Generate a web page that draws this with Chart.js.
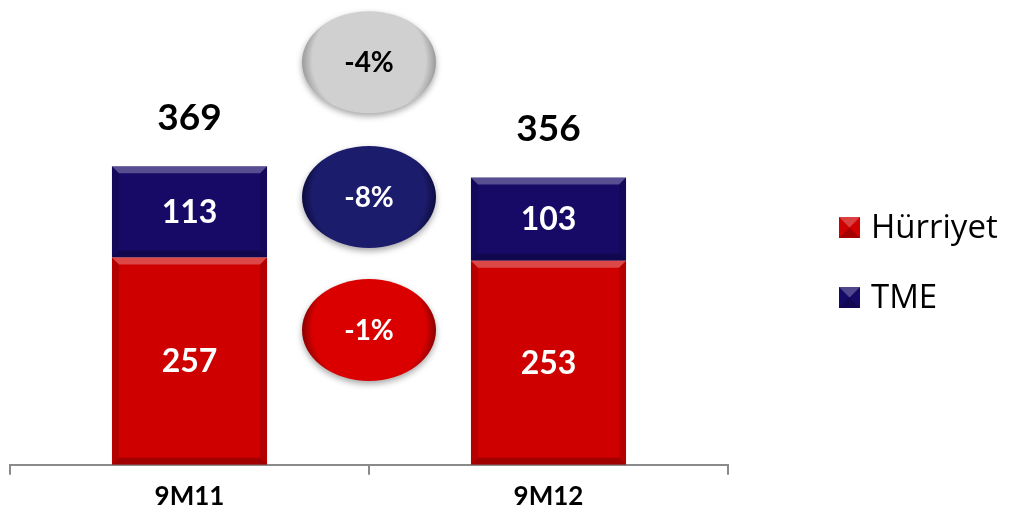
<!DOCTYPE html>
<html><head><meta charset="utf-8">
<script src="https://cdn.jsdelivr.net/npm/chart.js@4.4.1/dist/chart.umd.min.js"></script>
<style>html,body{margin:0;padding:0;background:#fff}#wrap{width:1010px;height:518px}</style>
</head><body><div id="wrap"><canvas id="c" width="1010" height="518"></canvas></div>
<script>
const categories = ["9M11", "9M12"];
const hurriyet = [257, 253];
const tme = [113, 103];
const totals = [369, 356];
const seriesNames = ["Hürriyet", "TME"];
const changeLabels = ["-4%", "-8%", "-1%"];
const changeValues = [499, 332, 167]; // vertical placement on value scale
const FONT = 'Lato, "Open Sans", sans-serif';

const RED = '#CF0000', NAVY = '#160A66';

const overlay = {
  id: 'overlay',
  afterDatasetsDraw(chart) {
    const ctx = chart.ctx;
    const xs = chart.scales.x, ys = chart.scales.y;
    chart.data.datasets.forEach((ds, di) => {
      const meta = chart.getDatasetMeta(di);
      meta.data.forEach((bar, i) => {
        const w = bar.width, l = bar.x - w / 2, r = bar.x + w / 2;
        const t = Math.min(bar.y, bar.base), b = Math.max(bar.y, bar.base);
        const e = 7;
        ctx.save();
        ctx.fillStyle = 'rgba(255,255,255,0.28)';
        ctx.beginPath(); ctx.moveTo(l, t); ctx.lineTo(r, t); ctx.lineTo(r - e, t + e); ctx.lineTo(l + e, t + e); ctx.closePath(); ctx.fill();
        ctx.fillStyle = 'rgba(0,0,0,0.22)';
        ctx.beginPath(); ctx.moveTo(l, b); ctx.lineTo(r, b); ctx.lineTo(r - e, b - e); ctx.lineTo(l + e, b - e); ctx.closePath(); ctx.fill();
        ctx.fillStyle = 'rgba(0,0,0,0.12)';
        ctx.beginPath(); ctx.moveTo(l, t); ctx.lineTo(l + e, t + e); ctx.lineTo(l + e, b - e); ctx.lineTo(l, b); ctx.closePath(); ctx.fill();
        ctx.beginPath(); ctx.moveTo(r, t); ctx.lineTo(r - e, t + e); ctx.lineTo(r - e, b - e); ctx.lineTo(r, b); ctx.closePath(); ctx.fill();
        ctx.fillStyle = '#fff';
        ctx.font = 'bold 32px ' + FONT;
        ctx.textAlign = 'center'; ctx.textBaseline = 'middle';
        ctx.fillText(String(ds.data[i]), bar.x, (t + b) / 2 + 1);
        ctx.restore();
      });
    });
    const topMeta = chart.getDatasetMeta(1);
    topMeta.data.forEach((bar, i) => {
      ctx.save();
      ctx.fillStyle = '#000';
      ctx.font = 'bold 37px ' + FONT;
      ctx.textAlign = 'center'; ctx.textBaseline = 'middle';
      ctx.fillText(String(totals[i]), bar.x, bar.y - 48);
      ctx.restore();
    });
    const cx = (xs.getPixelForValue(0) + xs.getPixelForValue(1)) / 2;
    const fills = [['#F2F2F2', '#D0D0D0', '#9a9a9a'], ['#3A3A8C', '#1C1C6C', '#0c0c40'], ['#FF3030', '#DA0000', '#8a0000']];
    const txt = ['#000', '#fff', '#fff'];
    changeLabels.forEach((lab, k) => {
      const cy = ys.getPixelForValue(changeValues[k]);
      const rx = 67, ry = 51;
      ctx.save();
      ctx.shadowColor = 'rgba(0,0,0,0.35)'; ctx.shadowBlur = 6; ctx.shadowOffsetY = 3;
      const g = ctx.createRadialGradient(cx, cy - 10, 10, cx, cy, rx);
      g.addColorStop(0, fills[k][1]); g.addColorStop(0.82, fills[k][1]); g.addColorStop(1, fills[k][2]);
      ctx.fillStyle = g;
      ctx.beginPath(); ctx.ellipse(cx, cy, rx, ry, 0, 0, Math.PI * 2); ctx.fill();
      ctx.restore();
      ctx.save();
      ctx.fillStyle = txt[k];
      ctx.font = 'bold 28px ' + FONT;
      ctx.textAlign = 'center'; ctx.textBaseline = 'middle';
      ctx.fillText(lab, cx, cy + 1);
      ctx.restore();
    });
    const legBase = [238, 308];
    chart.data.datasets.forEach((ds, di) => {
      const y0 = legBase[di] - 21;
      ctx.save();
      ctx.fillStyle = ds.backgroundColor;
      ctx.fillRect(839, y0, 21, 21);
      ctx.fillStyle = 'rgba(255,255,255,0.25)';
      ctx.beginPath(); ctx.moveTo(839, y0); ctx.lineTo(860, y0); ctx.lineTo(849.5, y0 + 10.5); ctx.closePath(); ctx.fill();
      ctx.fillStyle = 'rgba(0,0,0,0.2)';
      ctx.beginPath(); ctx.moveTo(839, y0 + 21); ctx.lineTo(860, y0 + 21); ctx.lineTo(849.5, y0 + 10.5); ctx.closePath(); ctx.fill();
      ctx.fillStyle = '#000';
      ctx.font = '33px "Open Sans", Lato, sans-serif';
      ctx.textAlign = 'left'; ctx.textBaseline = 'alphabetic';
      ctx.fillText(ds.label, 871, legBase[di]);
      ctx.restore();
    });
  }
};

new Chart(document.getElementById('c'), {
  type: 'bar',
  data: {
    labels: categories,
    datasets: [
      { label: seriesNames[0], data: hurriyet, backgroundColor: RED, borderWidth: 0 },
      { label: seriesNames[1], data: tme, backgroundColor: NAVY, borderWidth: 0 }
    ]
  },
  options: {
    responsive: false,
    animation: false,
    layout: { padding: { left: 10, right: 282, top: 13, bottom: 0 } },
    plugins: { legend: { display: false }, tooltip: { enabled: false } },
    datasets: { bar: { categoryPercentage: 1, barPercentage: 0.432 } },
    scales: {
      x: {
        stacked: true,
        offset: true,
        border: { display: true, color: '#8a8a8a', width: 2 },
        grid: { offset: true, drawOnChartArea: false, drawTicks: true, tickLength: 10, color: '#8a8a8a', lineWidth: 2 },
        ticks: { color: '#000', font: { family: FONT, size: 26, weight: 'bold', lineHeight: 1.05 }, padding: 8 }
      },
      y: { stacked: true, display: false, min: 0, max: 560 }
    }
  },
  plugins: [overlay]
});
</script>
</body></html>
